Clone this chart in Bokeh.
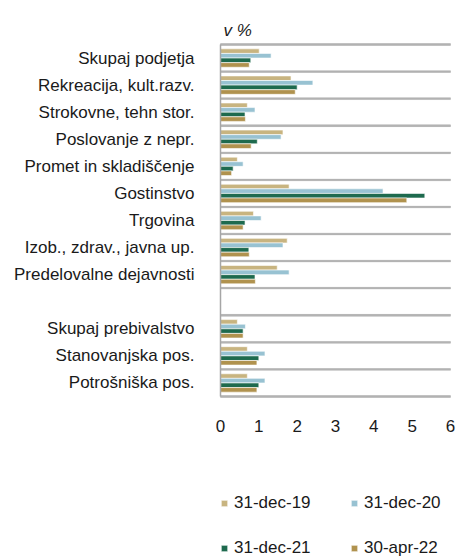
from bokeh.plotting import figure
from bokeh.models import (ColumnDataSource, Range1d, FixedTicker, Legend, LegendItem, Label,
                          BoxAnnotation)
from bokeh.embed import file_html
from bokeh.resources import INLINE

categories = ["Skupaj podjetja", "Rekreacija, kult.razv.", "Strokovne, tehn stor.",
              "Poslovanje z nepr.", "Promet in skladiščenje", "Gostinstvo", "Trgovina",
              "Izob., zdrav., javna up.", "Predelovalne dejavnosti", "",
              "Skupaj prebivalstvo", "Stanovanjska pos.", "Potrošniška pos."]
series = ["31-dec-19", "31-dec-20", "31-dec-21", "30-apr-22"]
dec19 = [1.01, 1.84, 0.70, 1.63, 0.44, 1.79, 0.86, 1.74, 1.48, None, 0.44, 0.70, 0.70]
dec20 = [1.32, 2.41, 0.90, 1.58, 0.59, 4.24, 1.06, 1.63, 1.79, None, 0.65, 1.16, 1.16]
dec21 = [0.79, 2.00, 0.64, 0.96, 0.33, 5.33, 0.64, 0.74, 0.90, None, 0.59, 1.00, 1.00]
apr22 = [0.75, 1.95, 0.65, 0.80, 0.29, 4.86, 0.59, 0.75, 0.91, None, 0.59, 0.95, 0.95]
colors = ["#C8B480", "#98C2D2", "#1E6A4E", "#B0924E"]
x_ticks = [0, 1, 2, 3, 4, 5, 6]

FONT = "Liberation Sans"
n = len(categories)

# layout (pixels)
W, H = 456, 558
plot_left, plot_right = 220, 450
plot_top, plot_bottom = 44, 396
col_px = (plot_right - plot_left) / (x_ticks[-1] - x_ticks[0])
row_px = (plot_bottom - plot_top) / n
x_start = x_ticks[0] - plot_left / col_px
x_end = x_ticks[-1] + (W - plot_right) / col_px
y_top = -plot_top / row_px
y_bottom = n + (H - plot_bottom) / row_px

p = figure(width=W, height=H, output_backend="svg", toolbar_location=None,
           x_range=Range1d(x_start, x_end), y_range=Range1d(y_bottom, y_top),
           min_border_left=0, min_border_right=0, min_border_top=0, min_border_bottom=0)
p.outline_line_color = None
p.xgrid.grid_line_color = None
p.ygrid.grid_line_color = None

# horizontal separators between categories (thin strips, ~1.8 px tall)
sep_h = 1.8 / row_px
sep_src = ColumnDataSource(dict(y=[float(b) for b in range(n + 1)],
                                left=[float(x_ticks[0])] * (n + 1),
                                right=[float(x_ticks[-1])] * (n + 1)))
p.hbar(y="y", left="left", right="right", height=sep_h, source=sep_src,
       fill_color="#b3b3b3", line_color="#b3b3b3", line_width=0.3)
for b in range(n + 1):
    p.add_layout(BoxAnnotation(left=x_ticks[0], right=x_ticks[-1],
                               bottom=b + sep_h / 2, top=b - sep_h / 2,
                               fill_color="#b3b3b3", fill_alpha=1.0, line_color=None,
                               level="underlay"))

values = [dec19, dec20, dec21, apr22]
bar_h = 0.17
offsets = [-1.5 * bar_h, -0.5 * bar_h, 0.5 * bar_h, 1.5 * bar_h]
renderers = []
for vals, col, off in zip(values, colors, offsets):
    ys, xs = [], []
    for i, v in enumerate(vals):
        if v is not None:
            ys.append(i + 0.5 + off)
            xs.append(v)
    src = ColumnDataSource(dict(y=ys, right=xs))
    r = p.hbar(y="y", left=0, right="right", height=bar_h, source=src,
               fill_color=col, line_color="white", line_width=0.6)
    renderers.append(r)

# x axis pinned to the bottom of the category area
p.xaxis.fixed_location = n
p.xaxis.ticker = FixedTicker(ticks=x_ticks)
p.xaxis.axis_line_color = None
p.xaxis.major_tick_line_color = None
p.xaxis.minor_tick_line_color = None
p.xaxis.major_label_standoff = 17
p.xaxis.major_label_text_font = FONT
p.xaxis.major_label_text_font_size = "17px"
p.xaxis.major_label_text_color = "#1a1a1a"

# y axis pinned to x = 0
p.yaxis.fixed_location = x_ticks[0]
p.yaxis.bounds = (0, n)
p.yaxis.ticker = FixedTicker(ticks=[i + 0.5 for i in range(n)])
p.yaxis.major_label_overrides = {i + 0.5: c for i, c in enumerate(categories)}
p.yaxis.axis_line_color = "#a6a6a6"
p.yaxis.axis_line_width = 1.5
p.yaxis.major_tick_line_color = None
p.yaxis.minor_tick_line_color = None
p.yaxis.major_label_standoff = 20
p.yaxis.major_label_text_font = FONT
p.yaxis.major_label_text_font_size = "17px"
p.yaxis.major_label_text_color = "#1a1a1a"

unit = Label(x=0, y=-0.52, x_offset=3, text="v %", text_font=FONT, text_font_size="17px",
             text_font_style="italic", text_baseline="middle", text_color="#1a1a1a")
p.add_layout(unit)

legend = Legend(items=[LegendItem(label=s, renderers=[r]) for s, r in zip(series, renderers)],
                location=(plot_left, -12), orientation="horizontal", ncols=2,
                glyph_width=8, glyph_height=8, label_standoff=6,
                label_width=116, label_height=45, spacing=0, padding=0, margin=0,
                border_line_color=None, background_fill_alpha=0,
                label_text_font=FONT, label_text_font_size="17px", label_text_color="#1a1a1a")
p.add_layout(legend, "center")

open("out.html", "w").write(file_html(p, INLINE))
